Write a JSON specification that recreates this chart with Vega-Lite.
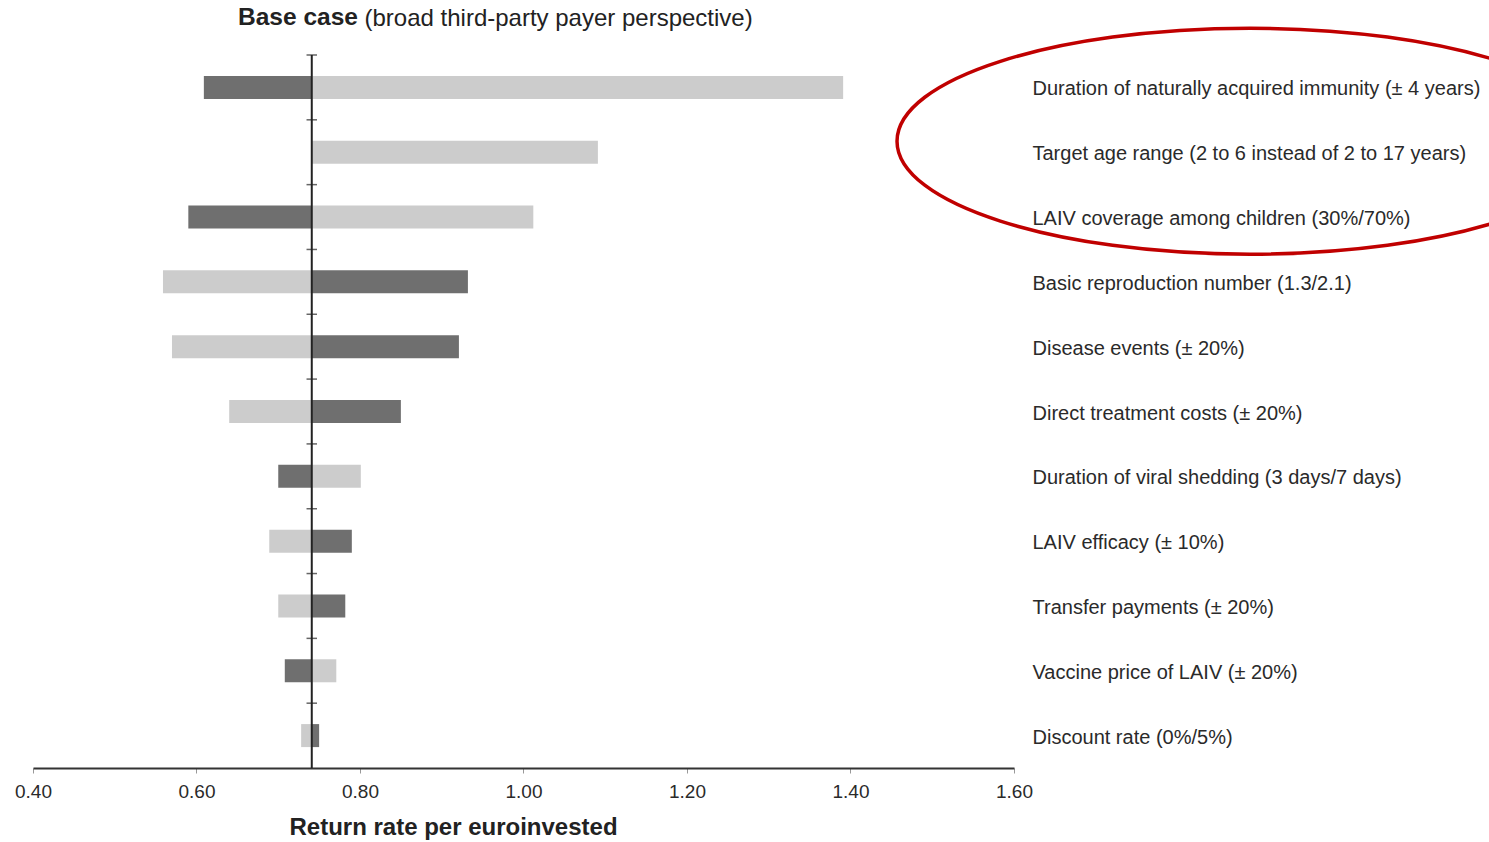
{
  "$schema": "https://vega.github.io/schema/vega-lite/v6.json",
  "width": 981,
  "height": 713,
  "autosize": {"type": "none"},
  "padding": {"left": 33, "top": 55, "right": 475, "bottom": 74},
  "background": "white",
  "config": {
    "view": {"stroke": null},
    "font": "Liberation Sans"
  },
  "title": {
    "text": "Base case",
    "anchor": "start",
    "frame": "group",
    "dx": 205,
    "offset": -36,
    "baseline": "middle",
    "fontSize": 24.5,
    "fontWeight": "bold",
    "color": "#222222",
    "font": "Liberation Sans"
  },
  "datasets": {
    "bars": [
      {"label": "Duration of naturally acquired immunity (± 4 years)", "value": 0.609, "shade": "dark"},
      {"label": "Duration of naturally acquired immunity (± 4 years)", "value": 1.391, "shade": "light"},
      {"label": "Target age range (2 to 6 instead of 2 to 17 years)", "value": 1.091, "shade": "light"},
      {"label": "LAIV coverage among children (30%/70%)", "value": 0.590, "shade": "dark"},
      {"label": "LAIV coverage among children (30%/70%)", "value": 1.012, "shade": "light"},
      {"label": "Basic reproduction number (1.3/2.1)", "value": 0.559, "shade": "light"},
      {"label": "Basic reproduction number (1.3/2.1)", "value": 0.932, "shade": "dark"},
      {"label": "Disease events (± 20%)", "value": 0.570, "shade": "light"},
      {"label": "Disease events (± 20%)", "value": 0.921, "shade": "dark"},
      {"label": "Direct treatment costs (± 20%)", "value": 0.640, "shade": "light"},
      {"label": "Direct treatment costs (± 20%)", "value": 0.850, "shade": "dark"},
      {"label": "Duration of viral shedding (3 days/7 days)", "value": 0.700, "shade": "dark"},
      {"label": "Duration of viral shedding (3 days/7 days)", "value": 0.801, "shade": "light"},
      {"label": "LAIV efficacy (± 10%)", "value": 0.689, "shade": "light"},
      {"label": "LAIV efficacy (± 10%)", "value": 0.790, "shade": "dark"},
      {"label": "Transfer payments (± 20%)", "value": 0.700, "shade": "light"},
      {"label": "Transfer payments (± 20%)", "value": 0.782, "shade": "dark"},
      {"label": "Vaccine price of LAIV (± 20%)", "value": 0.708, "shade": "dark"},
      {"label": "Vaccine price of LAIV (± 20%)", "value": 0.771, "shade": "light"},
      {"label": "Discount rate (0%/5%)", "value": 0.728, "shade": "light"},
      {"label": "Discount rate (0%/5%)", "value": 0.750, "shade": "dark"}
    ],
    "labels": [
      {"label": "Duration of naturally acquired immunity (± 4 years)", "base": 0.741},
      {"label": "Target age range (2 to 6 instead of 2 to 17 years)", "base": 0.741},
      {"label": "LAIV coverage among children (30%/70%)", "base": 0.741},
      {"label": "Basic reproduction number (1.3/2.1)", "base": 0.741},
      {"label": "Disease events (± 20%)", "base": 0.741},
      {"label": "Direct treatment costs (± 20%)", "base": 0.741},
      {"label": "Duration of viral shedding (3 days/7 days)", "base": 0.741},
      {"label": "LAIV efficacy (± 10%)", "base": 0.741},
      {"label": "Transfer payments (± 20%)", "base": 0.741},
      {"label": "Vaccine price of LAIV (± 20%)", "base": 0.741},
      {"label": "Discount rate (0%/5%)", "base": 0.741}
    ],
    "baseline": [{"base": 0.741}],
    "highlight": [{"label": "Target age range (2 to 6 instead of 2 to 17 years)", "cx": 1.8887}]
  },
  "layer": [
    {
      "data": {"name": "bars"},
      "mark": {"type": "bar", "size": 23},
      "encoding": {
        "y": {
          "field": "label",
          "type": "nominal",
          "sort": null,
          "scale": {
            "domain": [
              "Duration of naturally acquired immunity (± 4 years)",
              "Target age range (2 to 6 instead of 2 to 17 years)",
              "LAIV coverage among children (30%/70%)",
              "Basic reproduction number (1.3/2.1)",
              "Disease events (± 20%)",
              "Direct treatment costs (± 20%)",
              "Duration of viral shedding (3 days/7 days)",
              "LAIV efficacy (± 10%)",
              "Transfer payments (± 20%)",
              "Vaccine price of LAIV (± 20%)",
              "Discount rate (0%/5%)"
            ],
            "paddingInner": 0,
            "paddingOuter": 0
          },
          "axis": {
            "orient": "right",
            "domain": false,
            "ticks": false,
            "grid": false,
            "labelAlign": "left",
            "labelPadding": 18,
            "labelOffset": 2,
            "labelFontSize": 20,
            "labelColor": "#2a2a2a",
            "labelFont": "Liberation Sans",
            "labelLimit": 600,
            "title": "(broad third-party payer perspective)",
            "titleAngle": 0,
            "titleX": -650,
            "titleY": -37,
            "titleAlign": "left",
            "titleBaseline": "middle",
            "titleFontSize": 24,
            "titleFontWeight": "normal",
            "titleFont": "Liberation Sans",
            "titleColor": "#222222"
          }
        },
        "x": {
          "field": "value",
          "type": "quantitative",
          "scale": {"domain": [0.4, 1.6], "nice": false, "zero": false},
          "axis": {
            "values": [0.4, 0.6, 0.8, 1.0, 1.2, 1.4, 1.6],
            "format": ".2f",
            "grid": false,
            "labelFlush": false,
            "domainColor": "#333333",
            "domainWidth": 2,
            "tickColor": "#999999",
            "tickSize": 5,
            "tickWidth": 1,
            "labelFontSize": 19,
            "labelColor": "#2a2a2a",
            "labelFont": "Liberation Sans",
            "labelPadding": 9,
            "title": "Return rate per euroinvested",
            "titleFontSize": 24,
            "titleFontWeight": "bold",
            "titleFont": "Liberation Sans",
            "titleColor": "#222222",
            "titleX": 420,
            "titleY": 59,
            "titleAlign": "center",
            "titleBaseline": "middle"
          }
        },
        "x2": {"datum": 0.741},
        "color": {
          "field": "shade",
          "type": "nominal",
          "scale": {"domain": ["dark", "light"], "range": ["#6f6f6f", "#cccccc"]},
          "legend": null
        }
      }
    },
    {
      "data": {"name": "labels"},
      "mark": {"type": "point", "shape": "stroke", "size": 110, "strokeWidth": 1.5, "color": "#666666", "opacity": 1},
      "encoding": {
        "y": {"field": "label", "type": "nominal", "sort": null, "bandPosition": 0},
        "x": {"field": "base", "type": "quantitative"}
      }
    },
    {
      "data": {"name": "baseline"},
      "mark": {"type": "rule", "color": "#222222", "strokeWidth": 2},
      "encoding": {
        "x": {"field": "base", "type": "quantitative"}
      }
    },
    {
      "data": {"name": "highlight"},
      "mark": {
        "type": "point",
        "shape": "M -1 -0.0312 A 1 0.3201 0 1 0 1 -0.0312 A 1 0.3201 0 1 0 -1 -0.0312 Z",
        "size": 498436,
        "filled": false,
        "stroke": "#c00000",
        "strokeWidth": 3.5,
        "opacity": 1,
        "clip": false
      },
      "encoding": {
        "y": {"field": "label", "type": "nominal", "sort": null},
        "x": {"field": "cx", "type": "quantitative"}
      }
    }
  ]
}
